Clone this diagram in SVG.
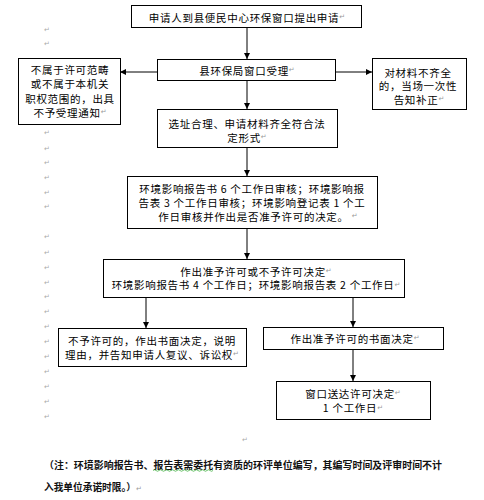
<svg xmlns="http://www.w3.org/2000/svg" width="484" height="500" viewBox="0 0 484 500">
<style>
.box{fill:#fff;stroke:#000;stroke-width:1}
.t{font-family:"Noto Sans CJK SC","Noto Sans",sans-serif;font-size:10.5px;letter-spacing:0.7px;fill:#000;text-anchor:middle;dominant-baseline:central}
.r{font-family:"DejaVu Sans",sans-serif;font-size:7px;letter-spacing:0;fill:#999}
.m{font-family:"DejaVu Sans",sans-serif;font-size:7px;fill:#aaa;text-anchor:middle;dominant-baseline:central}
.note{font-family:"Noto Sans CJK SC","Noto Sans",sans-serif;font-size:9.7px;fill:#111;font-weight:bold}
.c{stroke:#000;stroke-width:1;fill:none;marker-end:url(#ah)}
</style>
<defs>
<marker id="ah" markerWidth="6" markerHeight="6" refX="6" refY="3" orient="auto" markerUnits="userSpaceOnUse">
<path d="M0,0 L6,3 L0,6 Z" fill="#000"/>
</marker>
</defs>
<rect width="484" height="500" fill="#fff"/>
<g id="marks">
<text class="m" x="47" y="30">↵</text>
<text class="m" x="47" y="44">↵</text>
<text class="m" x="47" y="133">↵</text>
<text class="m" x="47" y="149">↵</text>
<text class="m" x="47" y="163">↵</text>
<text class="m" x="47" y="178">↵</text>
<text class="m" x="47" y="193">↵</text>
<text class="m" x="47" y="207">↵</text>
<text class="m" x="47" y="237">↵</text>
<text class="m" x="47" y="253">↵</text>
<text class="m" x="47" y="268">↵</text>
<text class="m" x="47" y="283">↵</text>
<text class="m" x="47" y="297">↵</text>
<text class="m" x="47" y="312">↵</text>
<text class="m" x="47" y="327">↵</text>
<text class="m" x="47" y="342">↵</text>
<text class="m" x="47" y="357">↵</text>
<text class="m" x="47" y="372">↵</text>
<text class="m" x="47" y="387">↵</text>
<text class="m" x="47" y="402">↵</text>
<text class="m" x="47" y="417">↵</text>
<text class="m" x="245" y="440">↵</text>
</g>
<g id="connectors">
<line class="c" x1="247" y1="27" x2="247" y2="59"/>
<line class="c" x1="157" y1="72" x2="120" y2="72"/>
<line class="c" x1="335" y1="72" x2="372" y2="72"/>
<line class="c" x1="247" y1="80" x2="247" y2="109"/>
<line class="c" x1="247" y1="147" x2="247" y2="176"/>
<line class="c" x1="247" y1="228" x2="247" y2="259"/>
<line class="c" x1="146" y1="297" x2="146" y2="328"/>
<line class="c" x1="353" y1="297" x2="353" y2="327"/>
<line class="c" x1="353" y1="349" x2="353" y2="381"/>
</g>
<g id="n1">
<rect class="box" x="131.5" y="5.5" width="230" height="22"/>
<text class="t" x="247" y="17">申请人到县便民中心环保窗口提出申请<tspan class="r">↵</tspan></text>
</g>
<g id="n2">
<rect class="box" x="157.5" y="59.5" width="178" height="21"/>
<text class="t" x="247" y="70">县环保局窗口受理<tspan class="r">↵</tspan></text>
</g>
<g id="n3">
<rect class="box" x="18.5" y="58.5" width="102" height="66"/>
<text class="t" x="70" y="69">不属于许可范畴</text>
<text class="t" x="70" y="83">或不属于本机关</text>
<text class="t" x="70" y="98">职权范围的，出具</text>
<text class="t" x="70" y="112">不予受理通知<tspan class="r">↵</tspan></text>
</g>
<g id="n4">
<rect class="box" x="372.5" y="58.5" width="94" height="51"/>
<text class="t" x="418" y="72">对材料不齐全</text>
<text class="t" x="418" y="85.5">的，当场一次性</text>
<text class="t" x="419" y="99">告知补正<tspan class="r">↵</tspan></text>
</g>
<g id="n5">
<rect class="box" x="157.5" y="109.5" width="180" height="38"/>
<text class="t" x="247" y="123">选址合理、申请材料齐全符合法</text>
<text class="t" x="247" y="137">定形式<tspan class="r">↵</tspan></text>
</g>
<g id="n6">
<rect class="box" x="127.5" y="176.5" width="250" height="52"/>
<text class="t" x="252" y="188">环境影响报告书 6 个工作日审核；环境影响报</text>
<text class="t" x="252" y="202">告表 3 个工作日审核；环境影响登记表 1 个工</text>
<text class="t" x="258" y="216">作日审核并作出是否准予许可的决定。 <tspan class="r">↵</tspan></text>
</g>
<g id="n7">
<rect class="box" x="103.5" y="259.5" width="301" height="38"/>
<text class="t" x="256" y="271">作出准予许可或不予许可决定<tspan class="r">↵</tspan></text>
<text class="t" x="256" y="284.5">环境影响报告书 4 个工作日；环境影响报告表 2 个工作日<tspan class="r">↵</tspan></text>
</g>
<g id="n8">
<rect class="box" x="58.5" y="328.5" width="188" height="38"/>
<text class="t" x="152" y="340">不予许可的，作出书面决定，说明</text>
<text class="t" x="152" y="354">理由，并告知申请人复议、诉讼权<tspan class="r">↵</tspan></text>
</g>
<g id="n9">
<rect class="box" x="263.5" y="327.5" width="180" height="22"/>
<text class="t" x="355" y="338">作出准予许可的书面决定<tspan class="r">↵</tspan></text>
</g>
<g id="n10">
<rect class="box" x="276.5" y="381.5" width="154" height="38"/>
<text class="t" x="353" y="393">窗口送达许可决定<tspan class="r">↵</tspan></text>
<text class="t" x="353" y="407.5">1 个工作日<tspan class="r">↵</tspan></text>
</g>
<g id="note">
<text class="note" x="44" y="469" textLength="398" lengthAdjust="spacingAndGlyphs">（注：环境影响报告书、报告表需委托有资质的环评单位编写，其编写时间及评审时间不计</text>
<path d="M153,470.5 q1.5,-1.5 3,0 t3,0 t3,0 t3,0 t3,0 t3,0 t3,0 t3,0 t3,0 t3,0 t3,0 t3,0 t3,0 t3,0 t3,0 t3,0 t3,0 t3,0 t3,0 t3,0" fill="none" stroke="#3a3" stroke-width="0.7"/>
<text class="note" x="44" y="491">入我单位承诺时限。）<tspan class="r" font-weight="normal">↵</tspan></text>
</g>
</svg>
